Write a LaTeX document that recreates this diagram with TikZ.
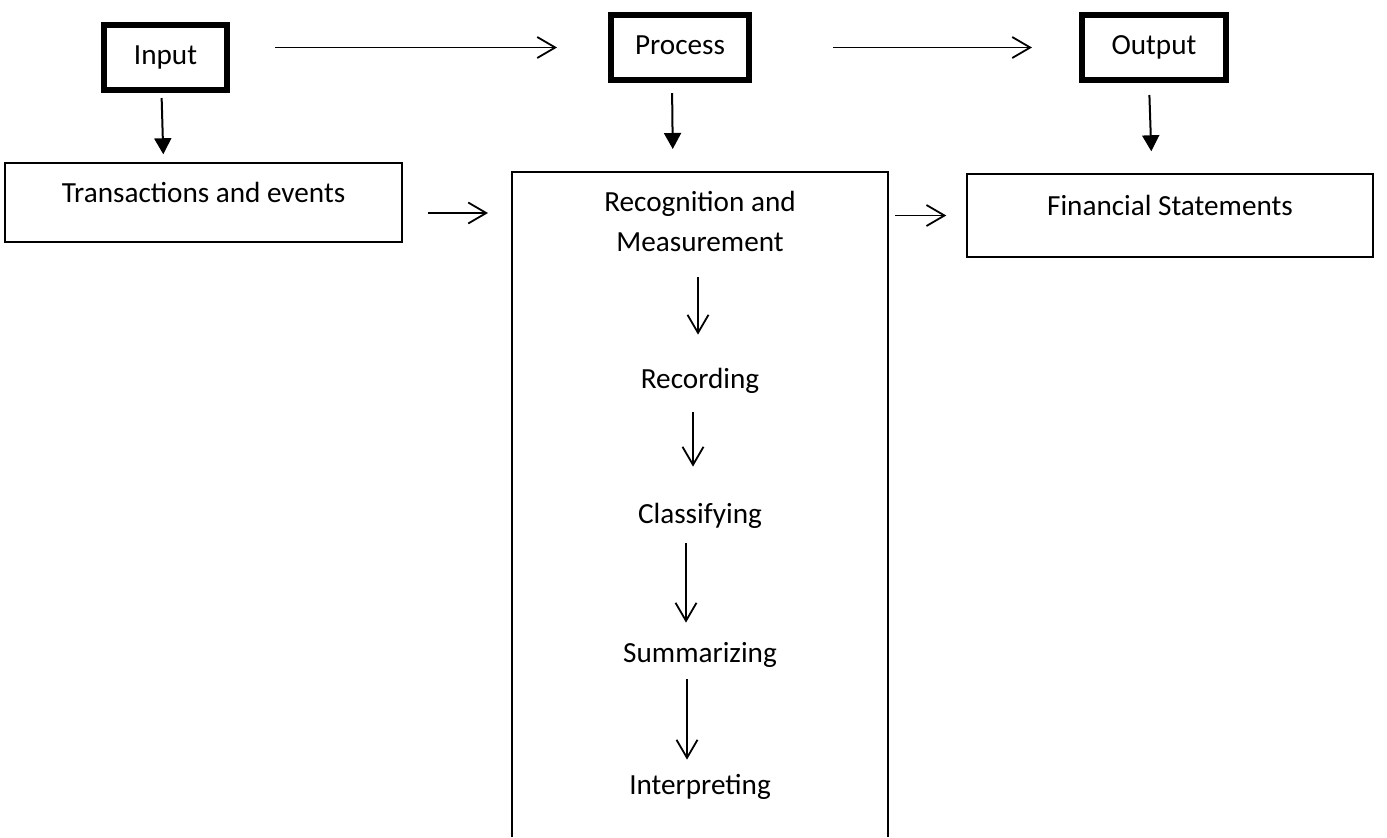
\documentclass[tikz,border=0pt]{standalone}
\usepackage{fontspec}
\setmainfont{Carlito}
\usetikzlibrary{arrows.meta}

\begin{document}
\begin{tikzpicture}[x=0.5pt,y=-0.5pt,
    font=\fontsize{14.6pt}{20pt}\selectfont,
    >={Straight Barb[length=9pt,width=10.5pt]},
    stage/.style={draw,line width=3pt,minimum height=32.5pt,inner sep=0pt,text height=10pt,text depth=3pt},
    box/.style={draw,line width=0.75pt,inner sep=0pt,text height=10pt,text depth=10pt},
    stepname/.style={inner sep=0pt,text height=10pt,text depth=3pt},
    flow/.style={->,line width=0.9pt},
    feed/.style={-{Triangle[length=8pt,width=8.5pt]},line width=1pt}]
  \useasboundingbox (0,0) rectangle (1387,837);

  \node[stage,minimum width=61.5pt] (input) at (165.5,57.5) {Input};
  \node[stage,minimum width=69pt] (process) at (680,47.5) {Process};
  \node[stage,minimum width=72pt] (output) at (1154,47.5) {Output};

  \node[box,minimum width=198.5pt,minimum height=39.5pt] (trans) at (203.5,202.5) {Transactions and events};
  \node[box,minimum width=203pt,minimum height=41.5pt] (fin) at (1170,215.5) {Financial Statements};
  \node[inner sep=0pt,outer sep=0pt,minimum width=188pt,minimum height=332.5pt] (big) at (700,504.5) {};
  \draw[line width=0.75pt] (big.south west) -- (big.north west) -- (big.north east) -- (big.south east);

  \node[align=center,inner sep=0pt] (recog) at (700,221.5) {Recognition and\\Measurement};
  \node[stepname] (record) at (700,381) {Recording};
  \node[stepname] (classify) at (700,516) {Classifying};
  \node[stepname] (summ) at (700,655) {Summarizing};
  \node[stepname] (interp) at (700,787) {Interpreting};

  \draw[flow,shorten <=22.5pt,shorten >=25.5pt] (input.east |- process.west) to (process.west);
  \draw[flow,shorten <=40.5pt,shorten >=23.5pt] (process.east |- output.west) to (output.west);

  \draw[feed,shorten <=2.5pt,shorten >=4pt] ([xshift=-2pt]input.south) to ([xshift=-1pt]input.south |- trans.north);
  \draw[feed,shorten <=5pt,shorten >=11.5pt] ([xshift=-4pt]process.south) to ([xshift=-3.5pt]process.south |- big.north);
  \draw[feed,shorten <=6pt,shorten >=11pt] ([xshift=-2.5pt]output.south) to ([xshift=-1pt]output.south |- fin.north);

  \draw[flow,shorten <=12.5pt,shorten >=12pt] ([yshift=-5.25pt]trans.east) to ([yshift=-5.25pt]trans.east -| big.west);
  \draw[flow,shorten <=3.5pt,shorten >=10pt] (big.east |- fin.west) to (fin.west);

  \draw[flow,shorten <=12.5pt,shorten >=16.5pt] ([xshift=-1pt]recog.south) to ([xshift=-1pt]record.north);
  \draw[flow,shorten <=9pt,shorten >=18pt] ([xshift=-3.5pt]record.south) to ([xshift=-3.5pt]classify.north);
  \draw[flow,shorten <=7pt,shorten >=9.5pt] ([xshift=-7pt]classify.south) to ([xshift=-7pt]summ.north);
  \draw[flow,shorten <=5.5pt,shorten >=7pt] ([xshift=-6.5pt]summ.south) to ([xshift=-6.5pt]interp.north);
\end{tikzpicture}
\end{document}
